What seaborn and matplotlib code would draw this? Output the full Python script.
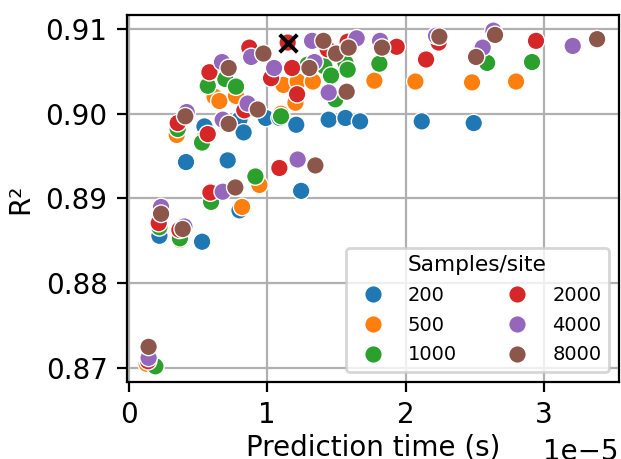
import numpy as np
import pandas as pd
import matplotlib
matplotlib.use("Agg")
import matplotlib.pyplot as plt
import seaborn as sns

# prediction time in units of 1e-5 s, R² per samples/site group
t_200 = [0.15, 0.222, 0.414, 0.53, 0.547, 0.715, 0.80, 0.83, 0.80, 0.99, 1.09, 1.21,
         1.245, 1.444, 1.565, 1.671, 2.116, 2.491]
r2_200 = [0.8705, 0.8856, 0.8943, 0.8849, 0.8985, 0.8945, 0.8993, 0.8978, 0.8886, 0.8995,
          0.8995, 0.8987, 0.8909, 0.8993, 0.8995, 0.8991, 0.8991, 0.8989]

t_500 = [0.13, 0.22, 0.37, 0.347, 0.54, 0.62, 0.655, 0.775, 0.944, 0.819, 1.10, 1.117,
         1.22, 1.204, 1.33, 1.774, 2.07, 2.479, 2.797]
r2_500 = [0.8705, 0.8868, 0.8851, 0.8975, 0.8970, 0.9020, 0.9015, 0.9021, 0.8916, 0.8890,
          0.9000, 0.9034, 0.9038, 0.9013, 0.9038, 0.9039, 0.9038, 0.9037, 0.9038]

t_1000 = [0.193, 0.222, 0.37, 0.354, 0.53, 0.595, 0.571, 0.698, 0.775, 0.915, 1.10,
          1.292, 1.413, 1.461, 1.565, 1.581, 1.492, 1.81, 2.588, 2.912]
r2_1000 = [0.8702, 0.8866, 0.8853, 0.8982, 0.8966, 0.8896, 0.9033, 0.9041, 0.9032, 0.8926,
           0.8997, 0.9058, 0.9056, 0.9045, 0.9060, 0.9052, 0.9017, 0.9059, 0.9060, 0.9061]

t_2000 = [0.14, 0.217, 0.366, 0.354, 0.571, 0.59, 0.583, 0.835, 0.871, 1.028, 1.088,
          1.148, 1.18, 1.216, 1.437, 1.581, 1.935, 2.147, 2.238, 2.941]
r2_2000 = [0.8708, 0.8871, 0.8863, 0.8989, 0.8976, 0.8907, 0.9049, 0.9004, 0.9078, 0.9042,
           0.8936, 0.9084, 0.9054, 0.9023, 0.9076, 0.9085, 0.9079, 0.9064, 0.9084, 0.9086]

t_4000 = [0.144, 0.234, 0.402, 0.419, 0.679, 0.674, 0.679, 0.859, 0.884, 1.05, 1.22,
          1.324, 1.341, 1.444, 1.646, 1.815, 2.219, 2.556, 2.633, 3.206]
r2_4000 = [0.8712, 0.8890, 0.8867, 0.9002, 0.8908, 0.9061, 0.8993, 0.9012, 0.9067, 0.9054,
           0.8946, 0.9086, 0.9061, 0.9025, 0.9089, 0.9086, 0.9092, 0.9078, 0.9098, 0.9080]

t_8000 = [0.144, 0.234, 0.39, 0.409, 0.722, 0.722, 0.77, 0.932, 0.973, 1.305, 1.348,
          1.406, 1.497, 1.574, 1.588, 1.829, 2.243, 2.508, 2.645, 3.382]
r2_8000 = [0.8725, 0.8882, 0.8864, 0.8997, 0.9054, 0.8988, 0.8913, 0.9005, 0.9071, 0.9054,
           0.8939, 0.9086, 0.9071, 0.9026, 0.9078, 0.9078, 0.9091, 0.9067, 0.9093, 0.9088]

best_t = 1.148
best_r2 = 0.9084

groups = ["200", "500", "1000", "2000", "4000", "8000"]
times = [t_200, t_500, t_1000, t_2000, t_4000, t_8000]
scores = [r2_200, r2_500, r2_1000, r2_2000, r2_4000, r2_8000]

rows = []
for g, ts, rs in zip(groups, times, scores):
    for t, r in zip(ts, rs):
        rows.append({"time": t * 1e-5, "r2": r, "samples": g})
df = pd.DataFrame(rows)

fig, ax = plt.subplots(figsize=(6.21 / 2, 4.59 / 2), dpi=200)
sns.scatterplot(data=df, x="time", y="r2", hue="samples", hue_order=groups,
                palette="tab10", s=40, linewidth=0.5, ax=ax)
# best model
ax.scatter([best_t * 1e-5], [best_r2], marker="x", color="k", s=40,
           linewidths=1.4, zorder=5)

ax.grid(True)
ax.set_axisbelow(True)
ax.set_xlim(-0.012e-5, 3.54e-5)
ax.set_ylim(0.86835, 0.91165)
ax.set_yticks([0.87, 0.88, 0.89, 0.90, 0.91])
ax.set_xlabel("Prediction time (s)", labelpad=1.5)
ax.set_ylabel("R²")
ax.legend(title="Samples/site", ncol=2, loc="lower right",
          fontsize=7, title_fontsize=7.8, columnspacing=2.1, labelspacing=0.55)

fig.subplots_adjust(left=127 / 621, right=619 / 621, top=1 - 15 / 459, bottom=1 - 382 / 459)
fig.savefig("out.png", dpi=200)
